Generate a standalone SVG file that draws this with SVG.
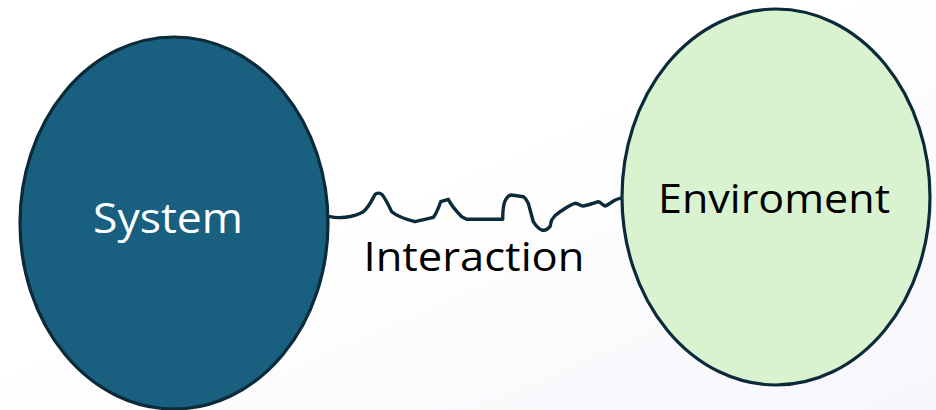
<svg xmlns="http://www.w3.org/2000/svg" width="936" height="410" viewBox="0 0 936 410">
<defs>
<linearGradient id="bg" x1="0" y1="0" x2="1" y2="1">
<stop offset="0.45" stop-color="#ffffff"/>
<stop offset="1" stop-color="#f6f6fc"/>
</linearGradient>
<style>
.node{stroke:#0b2a3a;stroke-width:3.2}
.lbl{font-family:"Open Sans","Liberation Sans",Arial,sans-serif;text-anchor:middle}
.wire{fill:none;stroke:#0b2a3a;stroke-width:3.4;stroke-linejoin:round;stroke-linecap:round}
</style>
</defs>
<rect width="936" height="410" fill="url(#bg)"/>
<g id="connectors">
<path class="wire" d="M330,216.7 C338,218.5 352,218 363.3,211.7 C369,207 372,200 375,194.5 C377,192.5 380,192.8 382,194.5 C385,198 388,204 391.7,211.7 C395,214.5 405,219 415,221.7 L433.3,217.3 C436,214 438.5,208 440.7,201.7 L448.3,199.3 C450,203 455,210 461.7,216.7 L466.7,219.3 L502.7,219.3 C502.8,214 503,210 503.3,208.3 C504,203 505,200 506.7,198.3 C508,196 509.5,195 511.7,195 L523.3,196.7 C526,198.5 527,200 528.3,203.3 L533.3,221.7 C536,226 539,229 541.7,230 C545,231 548,229 550,226.7 C550.5,224 551,222 551.7,220 C554,216 557,213.5 560,211.7 C566,208 570,204.5 575,203.3 C579,203.8 581,206 583.3,206 C590,205 594,203 598.3,201.7 C601,202 603,206 605,206 C607,205.5 608,204.5 610,203.3 C613,201 616,199 620,198.3"/>
<text class="lbl" x="474" y="271" font-size="40" fill="#000000" textLength="221" lengthAdjust="spacingAndGlyphs">Interaction</text>
</g>
<g id="system">
<ellipse class="node" cx="174" cy="223" rx="154" ry="186" fill="#185f80"/>
<text class="lbl" x="168" y="233" font-size="42" fill="#ffffff" textLength="150" lengthAdjust="spacingAndGlyphs">System</text>
</g>
<g id="enviroment">
<ellipse class="node" cx="776" cy="197" rx="154" ry="188" fill="#d9f2d0"/>
<text class="lbl" x="774" y="213" font-size="40" fill="#000000" textLength="232" lengthAdjust="spacingAndGlyphs">Enviroment</text>
</g>
</svg>
